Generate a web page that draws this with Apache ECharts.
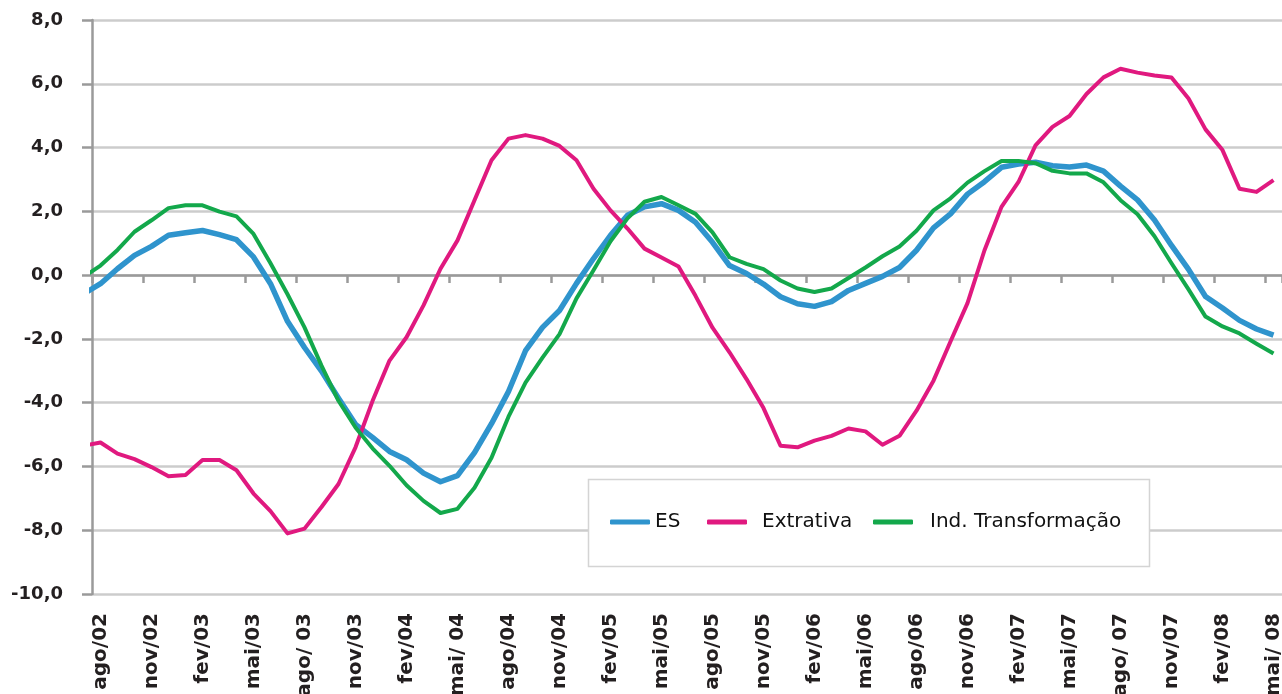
<!DOCTYPE html>
<html>
<head>
<meta charset="utf-8">
<script src="https://cdn.jsdelivr.net/npm/echarts@6/dist/echarts.min.js"></script>
<style>
html,body{margin:0;padding:0;background:#fff;}
#c{width:1282px;height:694px;}
</style>
</head>
<body>
<div id="c"></div>
<script>
// Months (first entry jul/02 lies just left of the plot area and is clipped)
const months = ['jul/02','ago/02','set/02','out/02','nov/02','dez/02',
 'jan/03','fev/03','mar/03','abr/03','mai/03','jun/03','jul/03','ago/ 03','set/03','out/03','nov/03','dez/03',
 'jan/04','fev/04','mar/04','abr/04','mai/ 04','jun/04','jul/04','ago/04','set/04','out/04','nov/04','dez/04',
 'jan/05','fev/05','mar/05','abr/05','mai/05','jun/05','jul/05','ago/05','set/05','out/05','nov/05','dez/05',
 'jan/06','fev/06','mar/06','abr/06','mai/06','jun/06','jul/06','ago/06','set/06','out/06','nov/06','dez/06',
 'jan/07','fev/07','mar/07','abr/07','mai/07','jun/07','jul/07','ago/ 07','set/07','out/07','nov/07','dez/07',
 'jan/08','fev/08','mar/08','abr/08','mai/ 08'];

const es = [-0.59, -0.27, 0.2, 0.62, 0.9, 1.25, 1.33, 1.40, 1.27, 1.11, 0.57, -0.27, -1.45, -2.27, -3.01, -3.86,
 -4.68, -5.09, -5.53, -5.79, -6.21, -6.48, -6.29, -5.57, -4.66, -3.65, -2.37, -1.64, -1.11, -0.26, 0.52, 1.25,
 1.88, 2.14, 2.24, 2.03, 1.66, 1.03, 0.3, 0.05, -0.28, -0.68, -0.9, -0.98, -0.83, -0.48, -0.26, -0.04, 0.24,
 0.78, 1.48, 1.92, 2.54, 2.93, 3.38, 3.48, 3.54, 3.43, 3.39, 3.45, 3.26, 2.79, 2.36, 1.73, 0.93, 0.18, -0.67,
 -1.03, -1.42, -1.69, -1.88];

const extrativa = [-5.35, -5.25, -5.6, -5.77, -6.02, -6.31, -6.27, -5.8, -5.8, -6.12, -6.85, -7.4, -8.1, -7.95,
 -7.27, -6.55, -5.4, -3.95, -2.68, -1.95, -0.95, 0.2, 1.09, 2.35, 3.6, 4.28, 4.39, 4.28, 4.05, 3.6, 2.71, 2.03,
 1.46, 0.83, 0.55, 0.27, -0.65, -1.65, -2.42, -3.26, -4.17, -5.35, -5.4, -5.19, -5.04, -4.81, -4.9, -5.32, -5.04,
 -4.25, -3.31, -2.08, -0.88, 0.78, 2.14, 2.92, 4.07, 4.65, 4.99, 5.68, 6.2, 6.47, 6.35, 6.26, 6.2, 5.54, 4.57,
 3.92, 2.71, 2.61, 2.98];

const indTransf = [-0.06, 0.30, 0.79, 1.36, 1.72, 2.1, 2.19, 2.19, 1.99, 1.84, 1.29, 0.37, -0.6, -1.64, -2.84,
 -3.94, -4.78, -5.43, -5.98, -6.59, -7.08, -7.46, -7.33, -6.67, -5.73, -4.44, -3.37, -2.59, -1.85, -0.73, 0.15,
 1.06, 1.78, 2.3, 2.45, 2.19, 1.92, 1.34, 0.56, 0.35, 0.19, -0.17, -0.42, -0.53, -0.42, -0.09, 0.24, 0.59, 0.9,
 1.39, 2.03, 2.41, 2.9, 3.26, 3.58, 3.58, 3.51, 3.27, 3.19, 3.19, 2.91, 2.35, 1.91, 1.22, 0.37, -0.45, -1.3,
 -1.61, -1.83, -2.15, -2.46];

const seriesNames = ['ES', 'Extrativa', 'Ind. Transformação'];
const seriesColors = ['#2f94cd', '#e0197f', '#13a84b'];
const seriesValues = [es, extrativa, indTransf];

// each month sits in the middle of its band: jul/02 -> -0.5, ago/02 -> 0.5, ...
function toPoints(vals) { return vals.map((v, i) => [i - 0.5, v]); }

const chart = echarts.init(document.getElementById('c'), null, {renderer: 'canvas'});
const labelFont = 'DejaVu Sans';

const legendTextPad = [0, 10, 12];
const legendLeft = [610, 707, 873];

chart.setOption({
  animation: false,
  backgroundColor: '#fff',
  grid: {left: 92, right: 0, top: 20, bottom: 100, containLabel: false, outerBoundsMode: 'none'},
  xAxis: [
    {
      type: 'value', min: 0, max: 70, interval: 3, position: 'bottom',
      axisLine: {show: true, onZero: true, lineStyle: {color: '#9a9a9a', width: 2.5}},
      axisTick: {show: true, length: 8, lineStyle: {color: '#9a9a9a', width: 2.5}},
      axisLabel: {show: false},
      splitLine: {show: false}
    },
    {
      type: 'category', data: months.slice(1), boundaryGap: true, position: 'bottom',
      axisLine: {show: false, onZero: false},
      axisTick: {show: false},
      splitLine: {show: false},
      axisLabel: {
        interval: 2, rotate: 90, margin: 19,
        fontFamily: labelFont, fontWeight: 'bold', fontSize: 20, color: '#231f20'
      }
    }
  ],
  yAxis: {
    type: 'value', min: -10, max: 8, interval: 2,
    axisLine: {show: true, onZero: false, lineStyle: {color: '#9a9a9a', width: 2.5}},
    axisTick: {show: true, length: 10, lineStyle: {color: '#9a9a9a', width: 2.5}},
    axisLabel: {
      margin: 29, fontFamily: labelFont, fontWeight: 'bold', fontSize: 18, color: '#231f20',
      formatter: v => v.toFixed(1).replace('.', ',')
    },
    splitLine: {show: true, lineStyle: {color: '#cccccc', width: 2.5}}
  },
  graphic: [{
    type: 'rect', z: 1, silent: true,
    shape: {x: 588.5, y: 479.5, width: 561, height: 87},
    style: {fill: '#ffffff', stroke: '#d4d4d4', lineWidth: 1.5}
  }],
  legend: seriesNames.map((n, i) => ({
    data: [n], left: legendLeft[i], top: 510, padding: 0, z: 5,
    icon: 'roundRect', itemWidth: 40, itemHeight: 5, selectedMode: false,
    textStyle: {fontFamily: labelFont, fontSize: 20, color: '#111', lineHeight: 24,
      padding: [0, 0, 0, legendTextPad[i]]}
  })),
  series: seriesNames.map((n, i) => ({
    name: n, type: 'line', xAxisIndex: 0, yAxisIndex: 0,
    data: toPoints(seriesValues[i]),
    symbol: 'none', clip: true, z: 2 + i,
    itemStyle: {color: seriesColors[i]},
    lineStyle: {color: seriesColors[i], width: i === 0 ? 5.5 : 4, cap: 'butt', join: 'round'}
  }))
});
</script>
</body>
</html>
